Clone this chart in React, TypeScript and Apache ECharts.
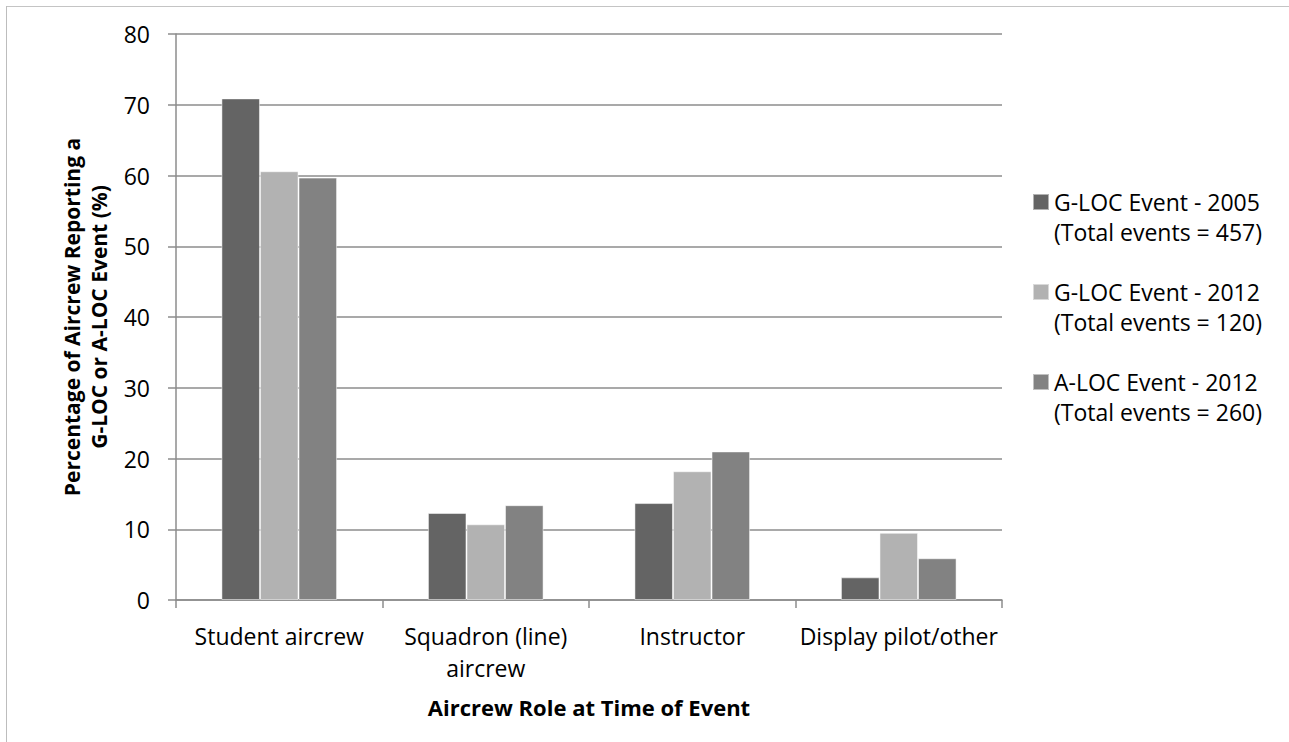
import React, { useEffect, useRef } from "react";
import * as echarts from "echarts";

const categories = ["Student aircrew", "Squadron (line)\naircrew", "Instructor", "Display pilot/other"];
const seriesNames = ["G-LOC Event - 2005", "G-LOC Event - 2012", "A-LOC Event - 2012"];
const seriesTotals = ["(Total events = 457)", "(Total events = 120)", "(Total events = 260)"];
const gloc2005 = [70.9, 12.3, 13.7, 3.2];
const gloc2012 = [60.6, 10.7, 18.2, 9.5];
const aloc2012 = [59.7, 13.4, 21.0, 5.9];
const seriesColors = ["#646464", "#b2b2b2", "#828282"];
const yTicks = { min: 0, max: 80, interval: 10 };

const FONT = "'Open Sans', 'Noto Sans', sans-serif";

export default function App() {
  const ref = useRef<HTMLDivElement>(null);
  useEffect(() => {
    document.body.style.margin = "0";
    if (!ref.current) return;
    const chart = echarts.init(ref.current, undefined, { renderer: "svg" });
    const data = [gloc2005, gloc2012, aloc2012];
    const totalsByName: Record<string, string> = {};
    seriesNames.forEach((n, i) => (totalsByName[n] = seriesTotals[i]));
    chart.setOption({
      animation: false,
      backgroundColor: "#ffffff",
      textStyle: { fontFamily: FONT },
      graphic: [
        {
          type: "line",
          shape: { x1: 6, y1: 6.5, x2: 1289, y2: 6.5 },
          style: { stroke: "#c4c4c4", lineWidth: 1 },
          silent: true,
        },
        {
          type: "line",
          shape: { x1: 6.5, y1: 6, x2: 6.5, y2: 742 },
          style: { stroke: "#bdbdbd", lineWidth: 1 },
          silent: true,
        },
      ],
      grid: { left: 176, top: 34, width: 826, height: 566 },
      legend: {
        orient: "vertical",
        left: 1032,
        top: 157,
        padding: 0,
        itemGap: 0,
        itemWidth: 16,
        itemHeight: 16,
        icon: "rect",
        data: seriesNames,
        formatter: (name: string) => "\n" + name + "\n" + totalsByName[name],
        textStyle: {
          fontFamily: FONT,
          fontSize: 23,
          color: "#000",
          lineHeight: 30,
        },
      },
      xAxis: {
        type: "category",
        data: categories,
        name: "Aircrew Role at Time of Event",
        nameLocation: "middle",
        nameGap: 92,
        nameTextStyle: { fontFamily: FONT, fontSize: 22, fontWeight: "bold", color: "#000", lineHeight: 30 },
        axisLine: { lineStyle: { color: "#8c8c8c", width: 1.5 } },
        axisTick: { show: true, length: 8, lineStyle: { color: "#8c8c8c", width: 1.5 } },
        axisLabel: { fontFamily: FONT, fontSize: 23, color: "#000", margin: 20, lineHeight: 32, interval: 0 },
      },
      yAxis: {
        type: "value",
        min: yTicks.min,
        max: yTicks.max,
        interval: yTicks.interval,
        name: "Percentage of Aircrew Reporting a\nG-LOC or A-LOC Event (%)",
        nameLocation: "middle",
        nameGap: 62,
        nameTextStyle: { fontFamily: FONT, fontSize: 21, fontWeight: "bold", color: "#000", lineHeight: 27 },
        axisLine: { show: true, lineStyle: { color: "#8c8c8c", width: 1.5 } },
        axisTick: { show: true, length: 8, lineStyle: { color: "#8c8c8c", width: 1.5 } },
        axisLabel: { fontFamily: FONT, fontSize: 23, color: "#000", margin: 26 },
        splitLine: { show: true, lineStyle: { color: "#8c8c8c", width: 1.5 } },
      },
      series: seriesNames.map((name, i) => ({
        name,
        type: "bar",
        data: data[i],
        barGap: "0%",
        barCategoryGap: "44%",
        itemStyle: { color: seriesColors[i], borderColor: "rgba(255,255,255,0.5)", borderWidth: 1 },
      })),
    });
    return () => chart.dispose();
  }, []);
  return <div ref={ref} style={{ width: 1289, height: 742 }} />;
}
